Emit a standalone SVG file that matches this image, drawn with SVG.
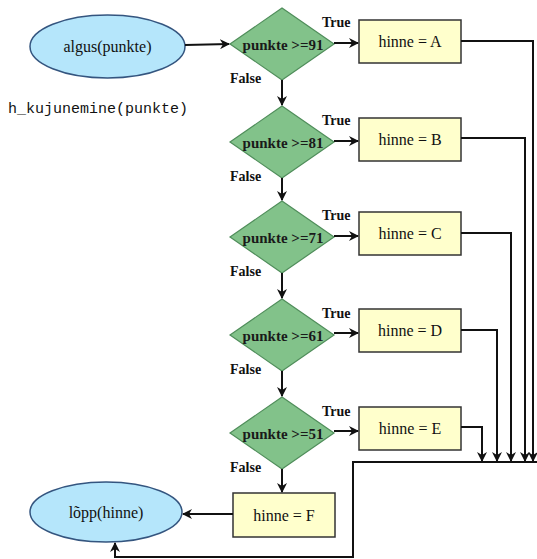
<svg xmlns="http://www.w3.org/2000/svg" width="537" height="559" viewBox="0 0 537 559">
<style>
.term{fill:#b5e6fb;stroke:#34557f;stroke-width:1.5}
.dec{fill:#82c28a;stroke:#4f8d5a;stroke-width:1.2}
.box{fill:#ffffcc;stroke:#333;stroke-width:1.5}
.t{font-family:"Liberation Serif",serif;font-size:16px;fill:#111;text-anchor:middle}
.dt{font-family:"Liberation Serif",serif;font-size:15px;font-weight:bold;fill:#1a1a1a;text-anchor:middle}
.lb{font-family:"Liberation Serif",serif;font-size:14px;font-weight:bold;fill:#111}
.mono{font-family:"Liberation Mono",monospace;font-size:15px;fill:#111}
.c{fill:none;stroke:#111;stroke-width:2}
</style>
<defs>
<marker id="ah" viewBox="0 0 10 10" refX="9" refY="5" markerWidth="5" markerHeight="5" orient="auto" markerUnits="strokeWidth">
<path d="M0,0 L10,5 L0,10 L3,5 z" fill="#111"/>
</marker>
</defs>
<g id="start"><ellipse class="term" cx="107.5" cy="46.5" rx="77.5" ry="31.5"/><text class="t" x="107.5" y="52">algus(punkte)</text></g>
<text class="mono" x="8" y="113">h_kujunemine(punkte)</text>
<g id="d1"><polygon class="dec" points="230,44 282,8 334,44 282,80"/><text class="dt" x="283" y="50">punkte &gt;=91</text></g>
<g id="d2"><polygon class="dec" points="230,142 282,106 334,142 282,178"/><text class="dt" x="283" y="148">punkte &gt;=81</text></g>
<g id="d3"><polygon class="dec" points="230,237 282,201 334,237 282,273"/><text class="dt" x="283" y="243">punkte &gt;=71</text></g>
<g id="d4"><polygon class="dec" points="230,335 282,299 334,335 282,371"/><text class="dt" x="283" y="341">punkte &gt;=61</text></g>
<g id="d5"><polygon class="dec" points="230,433 282,397 334,433 282,469"/><text class="dt" x="283" y="439">punkte &gt;=51</text></g>
<g id="bA"><rect class="box" x="359" y="20" width="102" height="43"/><text class="t" x="410" y="47">hinne = A</text></g>
<g id="bB"><rect class="box" x="359" y="118" width="102" height="43"/><text class="t" x="410" y="145">hinne = B</text></g>
<g id="bC"><rect class="box" x="359" y="212" width="102" height="43"/><text class="t" x="410" y="239">hinne = C</text></g>
<g id="bD"><rect class="box" x="359" y="309" width="102" height="43"/><text class="t" x="410" y="336">hinne = D</text></g>
<g id="bE"><rect class="box" x="359" y="407" width="102" height="43"/><text class="t" x="410" y="434">hinne = E</text></g>
<g id="bF"><rect class="box" x="233" y="493" width="102" height="44"/><text class="t" x="284" y="521">hinne = F</text></g>
<g id="end"><ellipse class="term" cx="106" cy="512" rx="76" ry="30"/><text class="t" x="106" y="518">lõpp(hinne)</text></g>
<g id="labels">
<text class="lb" x="322" y="27">True</text><text class="lb" x="230" y="83">False</text>
<text class="lb" x="322" y="125">True</text><text class="lb" x="230" y="181">False</text>
<text class="lb" x="322" y="220">True</text><text class="lb" x="230" y="276">False</text>
<text class="lb" x="322" y="318">True</text><text class="lb" x="230" y="374">False</text>
<text class="lb" x="322" y="416">True</text><text class="lb" x="230" y="472">False</text>
</g>
<g id="connectors">
<line class="c" x1="185" y1="45" x2="229" y2="44" marker-end="url(#ah)"/>
<line class="c" x1="334" y1="43" x2="358" y2="43" marker-end="url(#ah)"/>
<line class="c" x1="334" y1="141" x2="358" y2="141" marker-end="url(#ah)"/>
<line class="c" x1="334" y1="236" x2="358" y2="236" marker-end="url(#ah)"/>
<line class="c" x1="334" y1="333" x2="358" y2="333" marker-end="url(#ah)"/>
<line class="c" x1="334" y1="431" x2="358" y2="431" marker-end="url(#ah)"/>
<line class="c" x1="282" y1="80" x2="282" y2="105" marker-end="url(#ah)"/>
<line class="c" x1="282" y1="178" x2="282" y2="200" marker-end="url(#ah)"/>
<line class="c" x1="282" y1="273" x2="282" y2="298" marker-end="url(#ah)"/>
<line class="c" x1="282" y1="371" x2="282" y2="396" marker-end="url(#ah)"/>
<line class="c" x1="282" y1="469" x2="282" y2="492" marker-end="url(#ah)"/>
<line class="c" x1="233" y1="514" x2="183" y2="514" marker-end="url(#ah)"/>
<polyline class="c" points="461,41 533,41 533,461" marker-end="url(#ah)"/>
<polyline class="c" points="461,138 525,138 525,461" marker-end="url(#ah)"/>
<polyline class="c" points="461,233 511,233 511,461" marker-end="url(#ah)"/>
<polyline class="c" points="461,330 497,330 497,461" marker-end="url(#ah)"/>
<polyline class="c" points="461,427 482,427 482,461" marker-end="url(#ah)"/>
<polyline class="c" points="537,462 353,462 353,557 115,557 115,543" marker-end="url(#ah)"/>
</g>
</svg>
